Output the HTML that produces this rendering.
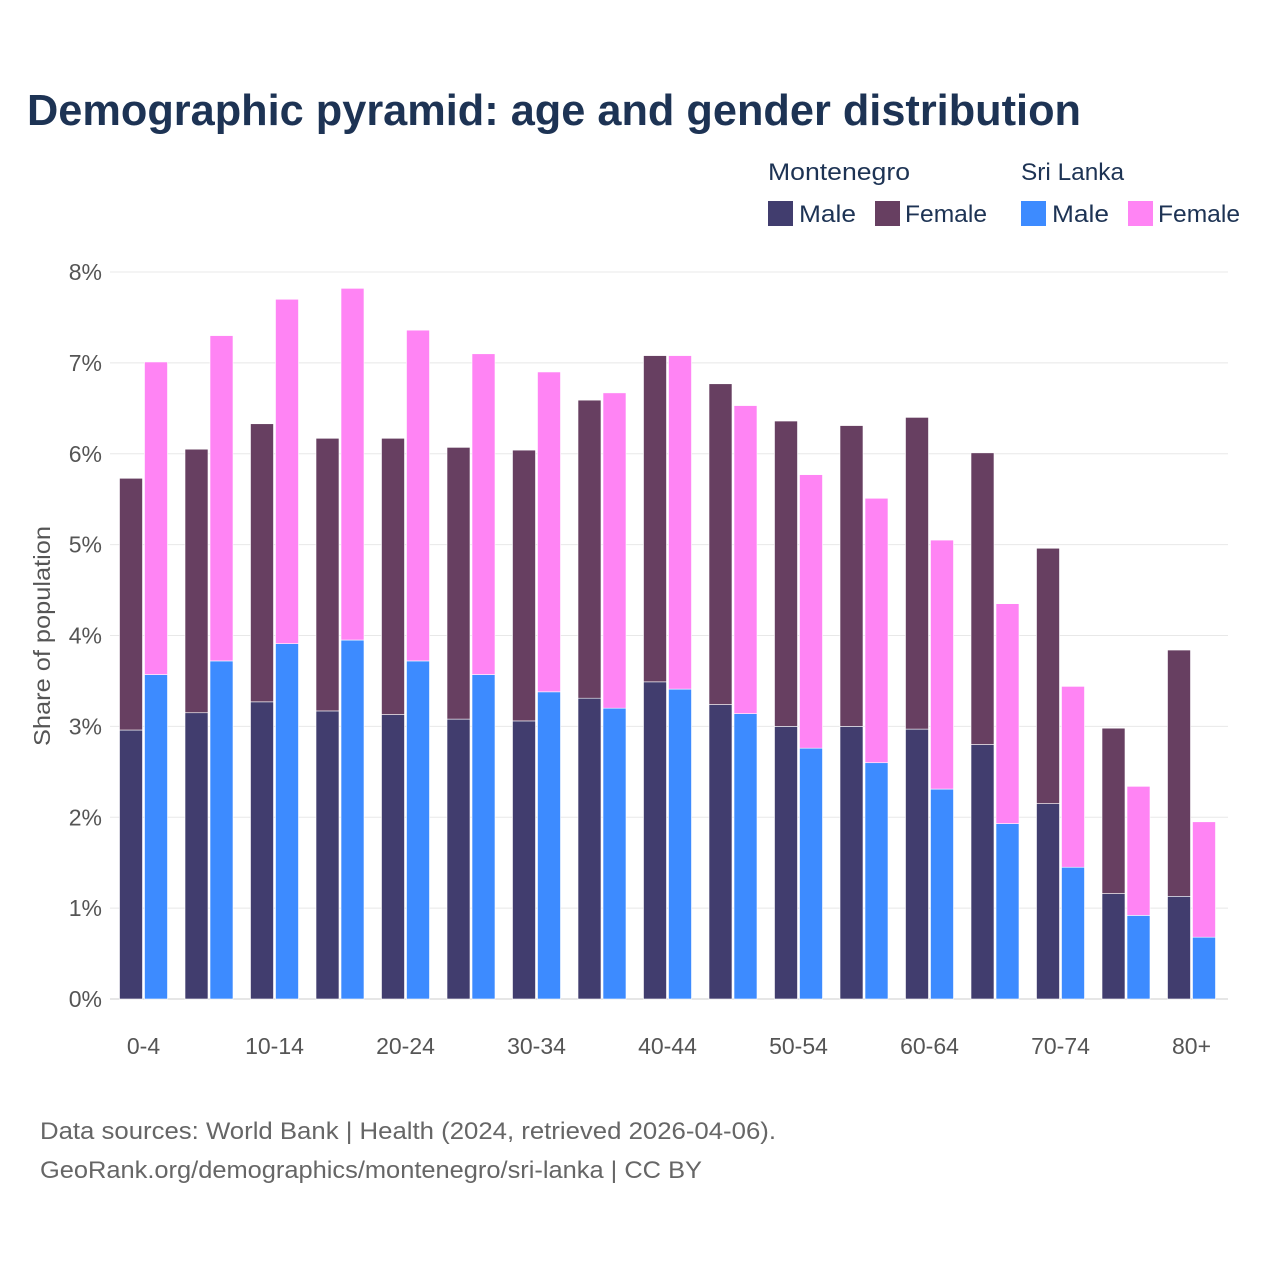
<!DOCTYPE html>
<html><head><meta charset="utf-8"><style>
body{margin:0;background:#fff;font-family:"Liberation Sans",sans-serif;}
svg text{font-family:"Liberation Sans",sans-serif;}
</style></head><body>
<svg id="chart" width="1280" height="1280" xmlns="http://www.w3.org/2000/svg">
<rect width="1280" height="1280" fill="#fff"/>
<text x="27" y="125" font-size="44" font-weight="bold" fill="#1d3354" textLength="1054" lengthAdjust="spacingAndGlyphs">Demographic pyramid: age and gender distribution</text>
<g font-size="24" fill="#1d3354">
<text x="768" y="180" textLength="142" lengthAdjust="spacingAndGlyphs">Montenegro</text>
<text x="1021" y="180" textLength="103" lengthAdjust="spacingAndGlyphs">Sri Lanka</text>
<rect x="768" y="201" width="25" height="25" fill="#413d6e"/>
<text x="799" y="222" textLength="57" lengthAdjust="spacingAndGlyphs">Male</text>
<rect x="875" y="201" width="25" height="25" fill="#673f61"/>
<text x="905" y="222" textLength="82" lengthAdjust="spacingAndGlyphs">Female</text>
<rect x="1021" y="201" width="25" height="25" fill="#3d8bff"/>
<text x="1052" y="222" textLength="57" lengthAdjust="spacingAndGlyphs">Male</text>
<rect x="1128" y="201" width="25" height="25" fill="#ff84f4"/>
<text x="1158" y="222" textLength="82" lengthAdjust="spacingAndGlyphs">Female</text>
</g>
<text transform="translate(50,636) rotate(-90)" text-anchor="middle" font-size="23" fill="#555" textLength="220" lengthAdjust="spacingAndGlyphs">Share of population</text>
<g id="grid"></g><g id="bars"></g><g id="xlabels"></g>
<text x="40" y="1139" font-size="24" fill="#666" textLength="736" lengthAdjust="spacingAndGlyphs">Data sources: World Bank | Health (2024, retrieved 2026-04-06).</text>
<text x="40" y="1178" font-size="24" fill="#666" textLength="662" lengthAdjust="spacingAndGlyphs">GeoRank.org/demographics/montenegro/sri-lanka | CC BY</text>
</svg>
<script>
const categories=["0-4","5-9","10-14","15-19","20-24","25-29","30-34","35-39","40-44","45-49","50-54","55-59","60-64","65-69","70-74","75-79","80+"];
const meMale=[2.96,3.15,3.27,3.17,3.13,3.08,3.06,3.31,3.49,3.24,3.0,3.0,2.97,2.80,2.15,1.16,1.13];
const meFemale=[2.77,2.90,3.06,3.00,3.04,2.99,2.98,3.28,3.59,3.53,3.36,3.31,3.43,3.21,2.81,1.82,2.71];
const lkMale=[3.57,3.72,3.91,3.95,3.72,3.57,3.38,3.20,3.41,3.14,2.76,2.60,2.31,1.93,1.45,0.92,0.68];
const lkFemale=[3.44,3.58,3.79,3.87,3.64,3.53,3.52,3.47,3.67,3.39,3.01,2.91,2.74,2.42,1.99,1.42,1.27];
const yTicks=[0,1,2,3,4,5,6,7,8];
const NS="http://www.w3.org/2000/svg";
const y=v=>999-v*90.875;
const xc=i=>143.5+i*65.5;
function mk(tag,attrs,parent){const e=document.createElementNS(NS,tag);for(const k in attrs)e.setAttribute(k,attrs[k]);parent.appendChild(e);return e;}
const grid=document.getElementById('grid'),bars=document.getElementById('bars'),xl=document.getElementById('xlabels');
yTicks.forEach(t=>{
 const l=mk('line',{x1:110,x2:1228,y1:y(t),y2:y(t),stroke:t===0?'#ccc':'#e8e8e8','stroke-width':1},grid);
 
 
 const tx=mk('text',{x:102,y:y(t)+8,'text-anchor':'end','font-size':23,fill:'#555'},grid);
 tx.textContent=t+'%';
 
 
});
categories.forEach((c,i)=>{
 const cx=xc(i);
 const segs=[[cx-24,0,meMale[i],'#413d6e','bar-montenegro-male-'+c],[cx-24,meMale[i],meFemale[i],'#673f61','bar-montenegro-female-'+c],[cx+1,0,lkMale[i],'#3d8bff','bar-sri-lanka-male-'+c],[cx+1,lkMale[i],lkFemale[i],'#ff84f4','bar-sri-lanka-female-'+c]];
 segs.forEach(s=>{
  const r=mk('rect',{x:s[0],y:y(s[1]+s[2]),width:23,height:y(s[1])-y(s[1]+s[2]),fill:s[3],stroke:'#fff','stroke-width':0.6},bars);
  
  
 });
 if(i%2===0){
  const t=mk('text',{x:cx,y:1054,'text-anchor':'middle','font-size':23,fill:'#555'},xl);
  t.textContent=c;
  
  
 }
});
</script>
</body></html>
